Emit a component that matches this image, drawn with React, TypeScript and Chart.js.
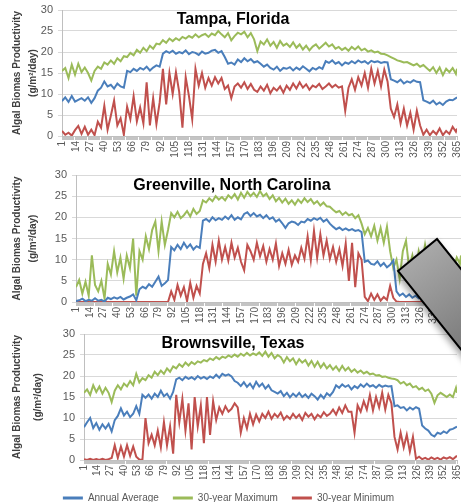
import React, { useEffect, useRef } from 'react';
import { Chart, registerables } from 'chart.js';

Chart.register(...registerables);

const FONT = '"Liberation Sans", Arial, sans-serif';

// x-axis tick labels (every 13 days)
const TICK_DAYS = [1, 14, 27, 40, 53, 66, 79, 92, 105, 118, 131, 144, 157, 170, 183, 196, 209, 222, 235, 248, 261, 274, 287, 300, 313, 326, 339, 352, 365];
// sampled days for the series (every 3rd day plus day 365)
const SAMPLE_DAYS = [...Array.from({ length: 122 }, (_, i) => 1 + 3 * i), 365];
const ALL_DAYS = Array.from({ length: 365 }, (_, i) => i + 1);

const SERIES_NAMES = ['Annual Average', '30-year Maximum', '30-year Minimum'];
const COLORS = ['#4a7ebb', '#9bbb59', '#c0504d'];
const Y_TITLE = ['Algal Biomas Productivity', '(g/m\u00b2/day)'];

// ---------- Tampa, Florida ----------
const TAMPA_AVG = [
  8.3, 9.2, 8.1, 9.5, 8.2, 8.6, 9, 8.4, 9.2, 7.9,
  9, 10.8, 11.5, 13, 11.8, 12.2, 11.3, 12.5, 11.8, 11.5,
  15.5, 15.2, 16, 15.5, 16.2, 15.8, 16.5, 15.6, 16.3, 16.8,
  16.5, 19.6, 20.2, 19.8, 20.3, 19.6, 20, 19.7, 20.4, 19.5,
  20, 19.8, 19.3, 20.1, 19.6, 19.8, 20.3, 20.5, 19.8, 20.2,
  18.8, 17.2, 17.5, 17, 18.2, 17.6, 18.5, 17.8, 18.3, 17.5,
  17.8, 17.2, 16.5, 17, 16.2, 15.8, 16.5, 15.5, 16.2, 16,
  16.4, 15.6, 16.3, 15.8, 16.6, 16, 15.4, 16.2, 15.8, 16.4,
  16, 17.8, 17.4, 18, 17.2, 17.6, 16.8, 17.5, 17.2, 17.8,
  17.3, 18, 17.5, 17.8, 17.2, 17.9, 17.6, 17.8, 17.4, 17.6,
  17.5, 13.5, 13.2, 12.8, 13.4, 12.5, 13, 12.7, 13.3, 12.9,
  12.8, 8.5, 8.2, 7.8, 8.4, 7.5, 8, 7.4, 8.2, 8.6,
  8.5, 9, 9.2,
];
const TAMPA_MAX = [
  15.5, 16.2, 13.8, 17, 14.6, 17.2, 15.2, 16.3, 15, 13.2,
  15.5, 16.5, 16, 17.5, 17, 18, 17.2, 18.5, 17.8, 19,
  18.8, 19.8, 19.2, 20.5, 19.8, 21, 20.2, 21.5, 20.8, 22,
  21.8, 22.8, 22.2, 23.2, 22.6, 23.3, 22.8, 23.6, 23.2, 23.8,
  23.4, 24.2, 23.5, 24, 24.3, 23.6, 24.4, 24, 25, 24.2,
  23.5, 24.5, 22.8, 23.8, 24.6, 24.2, 24.8, 23.5, 24.5, 23,
  20.2, 22.5, 21.8, 23, 21.5, 22.4, 21, 22.6, 21.5, 22,
  21.2, 22.3, 21, 21.8, 20.6, 21.5, 20.4, 21.3, 21.8, 20.8,
  21.5, 22.2, 21.3, 21.8, 20.8, 21.2, 20.5, 21, 20.3, 21.2,
  20.6, 21.3, 20.4, 20.8, 20.1, 20.4, 19.9, 20.1, 19.6, 19.5,
  19.2, 18.8, 18.4, 18, 17.8, 17.5, 17.6, 17.2, 16.8, 17.2,
  16.5, 16.9, 16.2, 15.5, 16.4, 15, 16.3, 14.5, 16, 15.2,
  16.2, 14.8, 16,
];
const TAMPA_MIN = [
  1.2, 0.3, 0.8, 0.1, 1.4, 2.4, 0.5, 2.2, 0.3, 1.5,
  0.2, 3.4, 2, 7.2, 1.5, 4.8, 8.4, 2.5, 4.2, 0.3,
  7, 4, 9.5, 3.5, 6.8, 3, 12.8, 2.5, 9, 2.8,
  8, 16, 7.5, 15, 10, 15.2, 10.5, 2, 14, 9.5,
  4, 16, 12, 15, 11.5, 13.8, 12, 14, 12.5, 13.8,
  11.2, 12, 9, 11.8, 12.5, 11.5, 12.8, 11.2, 12.4, 11,
  10.5, 11.8, 10.8, 12.2, 10.2, 11.5, 10.8, 11.8, 10.3, 12,
  11, 12.5, 11.3, 12.8, 11.5, 12.3, 11, 12, 11.6, 12.4,
  11.2, 11.8, 12.5, 11.6, 12.2, 11.5, 11.8, 6, 11.5, 13.5,
  11, 14, 12, 15, 11.5, 16, 12.5, 15.5, 11.8, 15.8,
  13, 6.5, 4.5, 7.5, 3, 6.5, 2.5, 5.5, 1.5, 6,
  2.5, 0.3, 1.5, 0.2, 1.2, 0.4, 1.8, 0.2, 1.2, 0.5,
  2.2, 1, 1.8,
];

// ---------- Greenville, North Carolina ----------
const GREENVILLE_AVG = [
  0.2, 0.4, 0.8, 0.2, 0.5, 0.3, 0.9, 0.3, 0.5, 0.1,
  1, 0.7, 1.1, 0.8, 1.2, 0.6, 1, 1.3, 1.8, 0.4,
  3, 3.6, 3.2, 4.2, 3.6, 4.8, 6, 3.8, 4.4, 5.2,
  13, 12.2, 13.5, 12.5, 14, 12.8, 13.6, 12.4, 13.2, 12.8,
  19.2, 19.6, 19, 20, 19.3, 19.8, 19.4, 20.2, 19.6, 20.5,
  19.4, 20, 19.5, 20.8, 21.2, 20.3, 21, 20.2, 20.6, 19.8,
  20.5, 19.6, 20, 19, 19.5, 18.6, 17.5, 18.6, 19, 18.8,
  18.2, 19, 18.8, 19.6, 19.2, 19.8, 19.4, 19.9, 19, 19.5,
  18.5, 17.8, 17.2, 17.6, 17, 17.4, 16.9, 17.2, 16.8, 17,
  16.5, 9.5, 9.8, 9, 8.8, 9.6, 8.5, 9.2, 8.2, 8.8,
  9.8, 2.5, 1.5, 2, 1.2, 1.8, 1, 1.5, 0.9, 1.4,
  1, 1.6, 1.1, 1.5, 1, 1.3, 0.8, 1.2, 0.9, 1.1,
  1.3, 1, 1.2,
];
const GREENVILLE_MAX = [
  3.5, 5.2, 2, 4.8, 1.5, 11, 4, 2.5, 5, 0.8,
  9, 6.5, 12, 7, 10.5, 5.5, 11, 8, 15, 1.5,
  12, 10, 15.5, 12.5, 17, 19, 12, 19, 13.5, 17,
  21, 20, 21.3, 19.8, 20.5, 21.5, 20.2, 22, 20.8, 21.5,
  24, 23.5, 24.5, 23.8, 25, 24.2, 24.8, 24, 25.2, 24.5,
  25.5, 24.2, 25.8, 24.6, 26, 25, 25.8, 24.8, 26.2, 25,
  25.6, 24.3, 25.2, 23.8, 24.6, 23.5, 24.4, 23.2, 24, 23,
  24.2, 23.4, 24.5, 23.6, 24.3, 23.2, 23.8, 22.8, 23.5, 22.6,
  22.5, 21.8, 21.2, 21.5, 20.6, 21.2, 20.5, 20.8, 19.8, 20.5,
  18.5, 16, 17.5, 15.5, 18, 14.5, 17.5, 14, 17.8, 12,
  8, 10, 5.5, 12, 14.5, 8, 11, 7, 12, 9,
  13.5, 9, 11, 7.5, 10, 8, 9.5, 7, 10, 8,
  10.5, 9, 11,
];
const GREENVILLE_MIN = [
  0, 0, 0, 0, 0, 0, 0, 0, 0, 0,
  0, 0, 0, 0, 0, 0, 0, 0, 0, 0,
  0, 0, 0, 0, 0, 0, 0, 0, 0, 0,
  2.5, 0.5, 4, 1.5, 3.5, 0.2, 4.5, 1, 3.8, 2,
  9, 11.5, 8, 13.5, 9.5, 14.5, 10, 13, 9.8, 14,
  10.5, 12.8, 9.5, 7.5, 13.5, 12, 10, 14, 10.8, 13.2,
  9.5, 12.5, 10, 13.8, 8.5, 11.5, 9, 12.3, 8.8, 11,
  9.5, 12.8, 10.2, 15.5, 9.8, 16.8, 10.5, 16, 11, 14.5,
  10.2, 13, 9.5, 12.5, 8.5, 13.8, 5, 14, 3.5, 11.5,
  10, 1.2, 0.2, 2, 0.5, 1.8, 0.3, 1.2, 0.5, 3.8,
  1, 0.1, 0, 0, 0, 0, 0, 0, 0, 0,
  0, 0, 0, 0, 0, 0, 0, 0, 0, 0,
  0, 0, 0,
];

// ---------- Brownsville, Texas ----------
const BROWNSVILLE_AVG = [
  7.8, 9, 10, 7.6, 8.8, 7.2, 8.5, 7.5, 8.6, 6.8,
  9.5, 10.5, 12.3, 10.6, 11.5, 10.2, 11, 12.8, 11, 15.5,
  14.8, 15.6, 14.6, 15.8, 15, 16.5, 15.2, 15.8, 14.6, 16.2,
  19.2, 19.6, 19, 19.8, 19.3, 19.7, 19.2, 20, 19.4, 19.8,
  19.3, 19.9, 19.5, 20.3, 19.6, 20.5, 20.1, 20.4, 19.9, 18.8,
  18.4, 17.6, 18.5, 17.4, 18.2, 17.1, 18.6, 17.5, 18.2, 17,
  17.8, 16.6, 16.2, 15.8, 16.4, 15.2, 16, 14.9, 15.8, 15.1,
  16, 15, 15.6, 14.8, 15.8, 15.2, 14.4, 15.5, 14.7, 15.9,
  15.3, 16.2, 17.8, 17.2, 18, 17.4, 17.8, 16.8, 17.6, 17.1,
  18, 17.4, 18.2, 17.5, 17.8, 17.2, 17.9, 17.4, 17.7, 17.5,
  17.6, 12.8, 13, 12.4, 12.6, 11.8, 12.5, 12, 12.6, 12.2,
  8.2, 7.5, 7, 6, 5.6, 6.5, 6.2, 6.8, 6.4, 7.2,
  7.4, 7.8, 8,
];
const BROWNSVILLE_MAX = [
  16, 16.8, 15.5, 17.8, 16.2, 17.5, 15.8, 17.2, 16, 13.8,
  16.5, 17.8, 16.8, 18.2, 17.5, 18.8, 17.8, 20.5, 18.5, 19.5,
  19, 20.2, 19.6, 21, 20.2, 21.3, 20.5, 21.8, 21, 22.3,
  21.8, 22.8, 22.2, 23.2, 22.5, 23.3, 22.8, 23.5, 23.2, 23.8,
  23.5, 24.2, 23.8, 24.5, 24, 24.6, 24.3, 24.9, 24.5, 25.1,
  24.6, 25.3, 24.8, 25.5, 24.9, 25.4, 25, 25.6, 24.8, 25.8,
  24.6, 25.5, 24.2, 25, 24.5, 23.2, 24.5, 23.5, 24.2, 22.8,
  24, 23.2, 23.8, 22.5, 23.6, 22.2, 23.4, 22, 23, 21.8,
  22.6, 21.5, 22.3, 21.2, 22.4, 21.3, 22, 21, 21.6, 20.8,
  21.3, 20.6, 21, 20.4, 20.6, 20.1, 20.2, 19.8, 19.9, 19.6,
  19.4, 19.3, 19, 18.2, 18.6, 17.8, 18.2, 17.3, 17.6, 16.8,
  17.2, 16.4, 16.8, 15.8, 13.6, 15.4, 16, 15.5, 15, 15.6,
  15, 17.2, 16,
];
const BROWNSVILLE_MIN = [
  0.2, 0, 0.3, 0, 0.2, 0, 0.3, 0, 0.2, 0.5,
  3.5, 0.5, 3.2, 0.8, 3.5, 1, 3.2, 0.8, 0.1, 0,
  10, 4, 6, 3.5, 7, 3, 9, 3.5, 8, 1.5,
  15.5, 9, 14.5, 7, 13.5, 2.5, 15, 8, 13, 4,
  15, 6, 14, 9.5, 12.5, 11, 12.8, 11.5, 12.2, 13.5,
  12.5, 6.5, 10, 7.5, 11, 8.5, 10.8, 9.2, 11, 10,
  11.5, 9.8, 11, 10.2, 11.3, 9.6, 10.5, 9.8, 11, 10,
  10.8, 9.5, 11.2, 10.3, 11, 9.7, 10.8, 10.2, 11.4, 10.5,
  11, 12, 10.8, 12.5, 11.2, 13, 11.5, 11.5, 6.5, 13,
  11.5, 14, 12, 15.5, 11.8, 15, 12.5, 16, 12, 15.5,
  13.5, 5.5, 2.5, 6.5, 3, 6, 2, 5.5, 0.3, 0.8,
  0.2, 0.5, 0.1, 0.6, 0.2, 0.5, 0.1, 0.6, 0.3, 0.7,
  0.2, 0.8, 1,
];

type Panel = {
  title: string;
  titleX: number;
  titleY: number;
  top: number;
  height: number;
  plotLeft: number;
  padTop: number;
  padRight: number;
  xHeight: number;
  yTitleLH: number;
  yTitlePad: number;
  legend: boolean;
  avg: number[];
  max: number[];
  min: number[];
};

const PANELS: Panel[] = [
  {
    title: 'Tampa, Florida', titleX: 233, titleY: 24,
    top: 0, height: 163, plotLeft: 62, padTop: 10, padRight: 4, xHeight: 27,
    yTitleLH: 1.6, yTitlePad: 9, legend: false,
    avg: TAMPA_AVG, max: TAMPA_MAX, min: TAMPA_MIN,
  },
  {
    title: 'Greenville, North Carolina', titleX: 232, titleY: 27,
    top: 163, height: 162, plotLeft: 76, padTop: 12, padRight: 0, xHeight: 23,
    yTitleLH: 1.6, yTitlePad: 9, legend: false,
    avg: GREENVILLE_AVG, max: GREENVILLE_MAX, min: GREENVILLE_MIN,
  },
  {
    title: 'Brownsville, Texas', titleX: 233, titleY: 23,
    top: 325, height: 188, plotLeft: 84, padTop: 9, padRight: 4, xHeight: 19,
    yTitleLH: 2.1, yTitlePad: 6.5, legend: true,
    avg: BROWNSVILLE_AVG, max: BROWNSVILLE_MAX, min: BROWNSVILLE_MIN,
  },
];

const titlePlugin = {
  id: 'panelTitle',
  afterDraw(chart: any, _args: any, opts: any) {
    const { ctx } = chart;
    ctx.save();
    ctx.font = `bold 16px ${FONT}`;
    ctx.fillStyle = '#000000';
    ctx.textAlign = 'center';
    ctx.textBaseline = 'alphabetic';
    ctx.fillText(opts.text, opts.x, opts.y);
    ctx.restore();
  },
};

function makeDataset(label: string, values: number[], color: string) {
  return {
    label,
    data: SAMPLE_DAYS.map((d, i) => ({ x: d, y: values[i] })),
    borderColor: color,
    backgroundColor: color,
    borderWidth: 2,
    pointRadius: 0,
    tension: 0,
    fill: false,
  };
}

function PanelChart({ p }: { p: Panel }) {
  const ref = useRef<HTMLCanvasElement>(null);
  useEffect(() => {
    const chart = new Chart(ref.current as HTMLCanvasElement, {
      type: 'line',
      data: {
        datasets: [
          makeDataset(SERIES_NAMES[0], p.avg, COLORS[0]),
          makeDataset(SERIES_NAMES[1], p.max, COLORS[1]),
          makeDataset(SERIES_NAMES[2], p.min, COLORS[2]),
        ],
      },
      options: {
        responsive: false,
        animation: false,
        devicePixelRatio: 1,
        layout: { padding: { top: p.padTop, right: p.padRight, left: 0, bottom: 0 } },
        plugins: {
          legend: p.legend
            ? {
                display: true,
                position: 'bottom',
                labels: {
                  boxWidth: 20,
                  boxHeight: 3,
                  padding: 14,
                  color: '#595959',
                  font: { size: 10, family: FONT },
                  generateLabels: (c: any) =>
                    (Chart.defaults.plugins.legend.labels.generateLabels as any)(c).map((l: any) => ({
                      ...l,
                      lineWidth: 0,
                      fillStyle: l.strokeStyle,
                    })),
                },
              }
            : { display: false },
          tooltip: { enabled: false },
          panelTitle: { text: p.title, x: p.titleX, y: p.titleY },
        } as any,
        scales: {
          x: {
            type: 'linear',
            min: 1,
            max: 365,
            offset: false,
            afterBuildTicks: (s: any) => {
              s.ticks = ALL_DAYS.map((v) => ({ value: v }));
            },
            afterFit: (s: any) => {
              s.height = p.xHeight;
              s.paddingLeft = 0;
              s.paddingRight = 0;
            },
            ticks: {
              autoSkip: false,
              minRotation: 90,
              maxRotation: 90,
              padding: 1,
              color: '#595959',
              font: { size: 10, family: FONT },
              callback: (v: any) => (TICK_DAYS.includes(Number(v)) ? String(v) : ''),
            },
            grid: { display: true, drawOnChartArea: false, drawTicks: true, tickLength: 4, color: '#c4c4c4' },
            border: { display: true, color: '#bfbfbf' },
          },
          y: {
            min: 0,
            max: 30,
            afterFit: (s: any) => {
              s.width = p.plotLeft;
              s.paddingTop = 0;
              s.paddingBottom = 0;
            },
            ticks: { stepSize: 5, padding: 5, color: '#595959', font: { size: 11, family: FONT } },
            grid: { color: '#d9d9d9', tickLength: 4, drawTicks: true },
            border: { display: true, color: '#bfbfbf' },
            title: {
              display: true,
              text: Y_TITLE,
              color: '#404040',
              font: { size: 10, weight: 'bold', family: FONT, lineHeight: p.yTitleLH },
              padding: { top: p.yTitlePad, bottom: 0 },
            },
          },
        } as any,
      },
      plugins: [titlePlugin],
    } as any);
    return () => chart.destroy();
  }, [p]);
  return (
    <canvas
      ref={ref}
      width={461}
      height={p.height}
      style={{ position: 'absolute', left: 0, top: p.top, width: 461, height: p.height, display: 'block' }}
    />
  );
}

export default function App() {
  return (
    <div
      style={{
        position: 'absolute',
        left: 0,
        top: 0,
        width: 461,
        height: 502,
        overflow: 'hidden',
        background: '#ffffff',
      }}
    >
      {PANELS.map((p) => (
        <PanelChart key={p.title} p={p} />
      ))}
      <svg
        width={461}
        height={502}
        style={{ position: 'absolute', left: 0, top: 0, pointerEvents: 'none' }}
      >
        <defs>
          <linearGradient id="pgrad" gradientUnits="userSpaceOnUse" x1="418" y1="255" x2="480" y2="340">
            <stop offset="0" stopColor="#a8a8a8" />
            <stop offset="1" stopColor="#7a7a7a" />
          </linearGradient>
          <filter id="pshadow" x="-50%" y="-50%" width="200%" height="200%">
            <feDropShadow dx="-2" dy="3" stdDeviation="3" floodColor="#000" floodOpacity="0.35" />
          </filter>
        </defs>
        <polygon
          points="398,271 437,239 531,356 492,388"
          fill="url(#pgrad)"
          stroke="#000"
          strokeWidth={2}
          filter="url(#pshadow)"
        />
      </svg>
    </div>
  );
}
